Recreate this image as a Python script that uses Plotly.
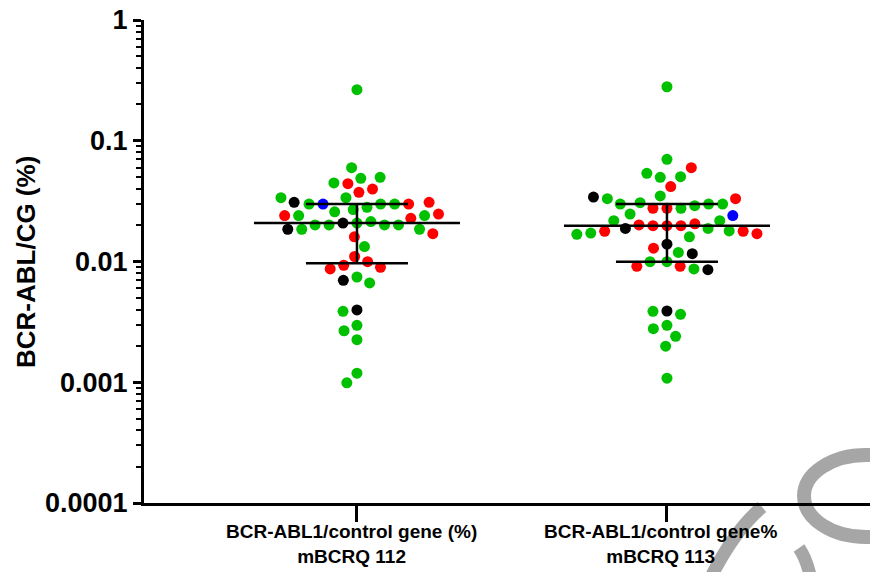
import numpy as np
import plotly.graph_objects as go

# ---------------- data ----------------
cat_line1 = ["BCR-ABL1/control gene (%)", "BCR-ABL1/control gene%"]
cat_line2 = ["mBCRQ 112", "mBCRQ 113"]

# G = green, R = red, K = black, B = blue
g1_values = [0.265, 0.0598, 0.0489, 0.0498, 0.0441, 0.0447, 0.0374, 0.0398, 0.0338, 0.0338,
             0.0309, 0.0299, 0.0299, 0.0299, 0.0299, 0.0299, 0.0309, 0.0281, 0.0258, 0.0247,
             0.0269, 0.0240, 0.0228, 0.0208, 0.0201, 0.0201, 0.0185, 0.0185, 0.0185, 0.0160,
             0.0170, 0.0201, 0.0201, 0.0208, 0.0214, 0.0240, 0.0240, 0.0133, 0.00996, 0.00867,
             0.00895, 0.00931, 0.0110, 0.00699, 0.00664, 0.00744, 0.00387, 0.00397, 0.00267, 0.00296,
             0.00225, 0.00119, 0.00099]
g1_groups = ["G", "G", "G", "G", "R", "G", "R", "R", "G", "G",
             "K", "G", "B", "G", "G", "R", "R", "G", "G", "R",
             "G", "G", "R", "G", "G", "G", "G", "G", "K", "R",
             "R", "G", "G", "K", "G", "G", "R", "G", "R", "R",
             "R", "R", "R", "K", "G", "G", "G", "K", "G", "G",
             "G", "G", "G"]

g2_values = [0.280, 0.0702, 0.0598, 0.0537, 0.0498, 0.0504, 0.0417, 0.0342, 0.0331, 0.0331,
             0.0349, 0.0290, 0.0276, 0.0299, 0.0299, 0.0299, 0.0307, 0.0276, 0.0276, 0.0247,
             0.0218, 0.0201, 0.0218, 0.0240, 0.0198, 0.0188, 0.0178, 0.0178, 0.0170, 0.0160,
             0.0168, 0.0172, 0.0179, 0.0188, 0.0198, 0.0198, 0.0205, 0.0139, 0.0119, 0.0116,
             0.0129, 0.00996, 0.00912, 0.00855, 0.00867, 0.00912, 0.00996, 0.00365, 0.00389, 0.00387,
             0.00296, 0.00278, 0.00240, 0.00199, 0.00108]
g2_groups = ["G", "G", "R", "G", "G", "G", "R", "K", "G", "R",
             "G", "G", "R", "G", "G", "G", "G", "R", "G", "G",
             "G", "R", "G", "B", "R", "G", "R", "R", "R", "G",
             "G", "G", "G", "K", "R", "R", "R", "K", "G", "K",
             "R", "G", "R", "K", "G", "R", "G", "G", "K", "G",
             "G", "G", "G", "G", "G"]

medians = [0.0208, 0.0198]
q1_values = [0.00966, 0.00996]
q3_values = [0.0299, 0.0299]

tick_values = [1e-4, 1e-3, 1e-2, 1e-1, 1]
tick_labels = ["0.0001", "0.001", "0.01", "0.1", "1"]
y_title = "BCR-ABL/CG (%)"

# ---------------- layout constants ----------------
W, H = 870, 572
ML, MR, MT, MB = 144, 0, 20, 69
PW, PH = W - ML - MR, H - MT - MB
X_RANGE = [-0.687, 1.655]
Y_LOG_RANGE = [-4, 0]
px_per_x = PW / (X_RANGE[1] - X_RANGE[0])
px_per_dec = PH / (Y_LOG_RANGE[1] - Y_LOG_RANGE[0])

COLORS = {"G": "#00c000", "R": "#ff0000", "K": "#000000", "B": "#0000ff"}
FONT = "Liberation Sans, Arial, sans-serif"


def swarm(values, d=14.0):
    ys = np.log10(np.asarray(values)) * px_per_dec
    center = np.median(ys)
    order = np.argsort(np.abs(ys - center), kind="stable")
    placed = []
    xs = np.zeros(len(ys))
    for i in order:
        y = ys[i]
        cands = [0.0]
        for (px, py) in placed:
            dy = abs(py - y)
            if dy < d:
                dx = np.sqrt(d * d - dy * dy)
                cands += [px + dx, px - dx]
        cands.sort(key=lambda c: (abs(c), c))
        for c in cands:
            if all((c - px) ** 2 + (y - py) ** 2 >= d * d - 1e-6 for px, py in placed):
                xs[i] = c
                break
        placed.append((xs[i], y))
    return xs / px_per_x


fig = go.Figure()

for gi, (vals, grps) in enumerate([(g1_values, g1_groups), (g2_values, g2_groups)]):
    offs = swarm(vals)
    fig.add_trace(go.Scatter(
        x=gi + offs, y=vals, mode="markers",
        marker=dict(size=11, color=[COLORS[g] for g in grps], line=dict(width=0)),
        showlegend=False, hoverinfo="y"))

# median + interquartile range bars
MED_HALF = 103 / px_per_x
IQR_HALF = 51 / px_per_x
lx, ly = [], []
for gi in range(2):
    lx += [gi - MED_HALF, gi + MED_HALF, None]
    ly += [medians[gi], medians[gi], None]
    lx += [gi - IQR_HALF, gi + IQR_HALF, None]
    ly += [q3_values[gi], q3_values[gi], None]
    lx += [gi - IQR_HALF, gi + IQR_HALF, None]
    ly += [q1_values[gi], q1_values[gi], None]
    lx += [gi, gi, None]
    ly += [q1_values[gi], q3_values[gi], None]
fig.add_trace(go.Scatter(x=lx, y=ly, mode="lines",
                         line=dict(color="black", width=2.5),
                         showlegend=False, hoverinfo="skip"))

minor_vals = [k * 10.0 ** e for e in range(-4, 0) for k in range(2, 10)]

fig.update_layout(
    width=W, height=H,
    margin=dict(l=ML, r=MR, t=MT, b=MB),
    paper_bgcolor="white", plot_bgcolor="white",
    font=dict(family=FONT, color="black"),
    xaxis=dict(range=X_RANGE, showgrid=False, zeroline=False, automargin=False,
               showline=True, linecolor="black", linewidth=3,
               tickvals=[0, 1], ticktext=["", ""], ticks="outside",
               ticklen=16, tickwidth=3, tickcolor="black"),
    yaxis=dict(type="log", range=Y_LOG_RANGE, showgrid=False, zeroline=False, automargin=False,
               showline=True, linecolor="black", linewidth=3,
               tickvals=tick_values, ticktext=tick_labels, ticks="outside",
               ticklen=8, tickwidth=3, tickcolor="black",
               tickfont=dict(family=FONT, size=27, color="black", weight="bold"),
               minor=dict(tickvals=minor_vals, ticks="outside", ticklen=5,
                          tickwidth=2, tickcolor="black")),
)


def px2paper(px, py):
    return (px - ML) / PW, (H - MB - py) / PH


# y-axis title
tx, ty = px2paper(26, 262)
fig.add_annotation(x=tx, y=ty, xref="paper", yref="paper", text=y_title,
                   textangle=-90, showarrow=False, xanchor="center", yanchor="middle",
                   font=dict(family=FONT, size=26, color="black", weight="bold"))

# category labels (two lines each)
label_px = [352.0, 661.0]
for gi in range(2):
    _, yy = px2paper(0, 544)
    fig.add_annotation(x=(label_px[gi] - 357) / px_per_x, y=yy, xref="x", yref="paper",
                       text=cat_line1[gi] + "<br>" + cat_line2[gi], showarrow=False,
                       xanchor="center", yanchor="middle", align="center",
                       font=dict(family=FONT, size=19, color="black", weight="bold"))

# faint watermark arcs (bottom-right)
GRAY = "#a6a6a6"
ex0, ey0 = px2paper(804, 537)
ex1, ey1 = px2paper(928, 455)
fig.add_shape(type="circle", xref="paper", yref="paper", x0=ex0, y0=ey0, x1=ex1, y1=ey1,
              line=dict(color=GRAY, width=14), layer="below")


def path_px(pts):
    (a, b), (c, d), (e, f) = [px2paper(*p) for p in pts]
    return f"M {a},{b} Q {c},{d} {e},{f}"


fig.add_shape(type="path", xref="paper", yref="paper",
              path=path_px([(762, 507), (735, 530), (712, 575)]),
              line=dict(color=GRAY, width=13), layer="below")
fig.add_shape(type="path", xref="paper", yref="paper",
              path=path_px([(799, 548), (806, 558), (810, 575)]),
              line=dict(color=GRAY, width=13), layer="below")

fig.write_html("out.html", config={"displayModeBar": False},
               post_script="document.body.style.margin='0';document.body.style.padding='0';")
